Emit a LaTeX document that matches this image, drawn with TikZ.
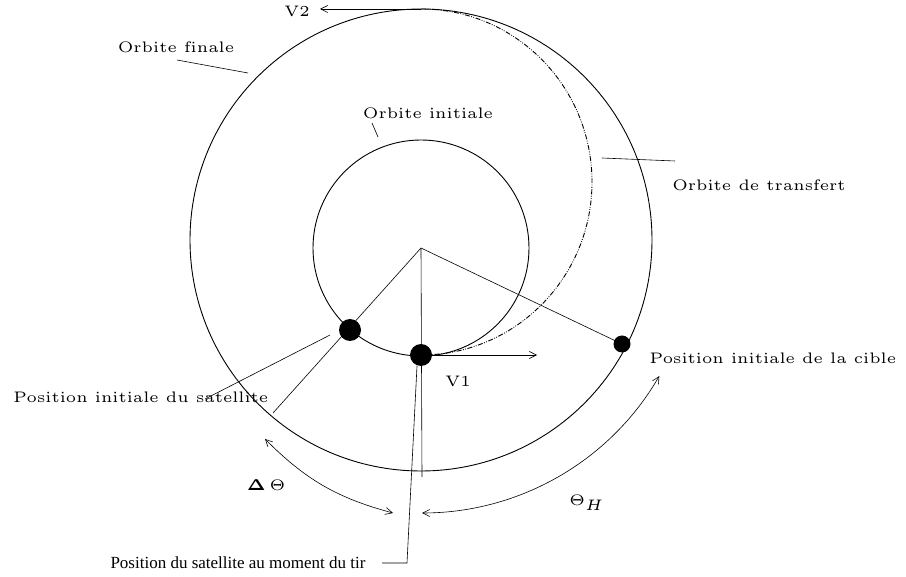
\documentclass[tikz,border=0pt]{standalone}
\usepackage{amsmath,amssymb}
\usepackage{fontspec}
\usepackage{tikz}
\usetikzlibrary{arrows.meta,positioning}

\newfontfamily\timesfont{Liberation Serif}
\newcommand{\figfont}{\fontencoding{OT1}\fontfamily{cmr}\fontsize{5}{6}\selectfont}

\begin{document}
\begin{tikzpicture}[
  x=1pt, y=1pt,
  orbit/.style={line width=0.9pt},
  transfer/.style={line width=0.9pt, dash pattern=on 5pt off 1.5pt on 0.8pt off 1.5pt on 0.8pt off 1.5pt},
  leader/.style={line width=0.6pt},
  body/.style={circle, fill=black, inner sep=0pt},
  lbl/.style={inner sep=0pt, font=\figfont, scale=3.05},
  arrow/.style={-{Straight Barb[length=7pt,width=7pt]}, line width=0.6pt},
  dblarrow/.style={{Straight Barb[length=7pt,width=7pt]}-{Straight Barb[length=7pt,width=7pt]}, line width=0.6pt}
]
  \useasboundingbox (0,0) rectangle (906,-577);

  % centres des orbites
  \coordinate (centre) at (421,-248);
  \coordinate (centrefin) at (421,-240);

  % orbites
  \draw[orbit] (centre) circle (108);
  \draw[orbit] (centrefin) circle (231);
  \coordinate (apogee) at (421,-9);
  \draw[transfer] (apogee) arc[start angle=90, end angle=-90, x radius=171, y radius=173];

  % satellites et cible
  \node[body, minimum size=22pt] (sat) at (350,-330) {};
  \node[body, minimum size=22pt] (tir) at (421,-355) {};
  \node[body, minimum size=17pt] (cible) at (622,-344) {};

  % rayons
  \coordinate (satbout) at (273,-413);
  \coordinate (tirbout) at (422,-477);
  \draw[leader] (centre) -- (satbout);
  \draw[leader] (centre) -- (tirbout);
  \draw[leader] (centre) -- (cible.center);

  % vitesses
  \coordinate (v1bout) at (537,-355);
  \coordinate (v2bout) at (320,-9);
  \draw[arrow] (tir.east) -- (v1bout);
  \draw[arrow] (apogee) -- (v2bout);
  \node[lbl] (v1) at (458,-381) {V1};
  \node[lbl] (v2) at (297,-11) {V2};

  % etiquettes
  \node[lbl] (finale) at (176,-47) {Orbite finale};
  \node[lbl] (initiale) at (428,-113) {Orbite initiale};
  \node[lbl] (transfert) at (759,-185) {Orbite de transfert};
  \node[lbl] (possat) at (141,-397) {Position initiale du satellite};
  \node[lbl] (poscible) at (773,-358) {Position initiale de la cible};
  \node[inner sep=0pt, font=\timesfont\fontsize{17}{19}\selectfont] (postir) at (238,-563) {Position du satellite au moment du tir};

  \draw[leader] (177,-60) -- (248,-73);
  \draw[leader] (372,-123) -- (378,-137);
  \draw[leader] (602,-158) -- (675,-161);
  \draw[leader] (330,-335) -- (205,-399);
  \draw[leader] (417,-366) -- (407,-563) -- (382,-563);

  % angles
  \coordinate (dta) at (265,-439);
  \coordinate (dtb) at (393,-513);
  \draw[dblarrow] (dta) to[bend right=15] (dtb);
  \node[lbl] (dtheta) at (266,-485) {$\boldsymbol{\Delta}\,\Theta$};
  \coordinate (tha) at (422,-513);
  \draw[dblarrow] (tha) arc[start angle=-90, end angle=-30, radius=274];
  \node[lbl] (thetah) at (587,-503) {$\Theta_{H}$};
\end{tikzpicture}
\end{document}
